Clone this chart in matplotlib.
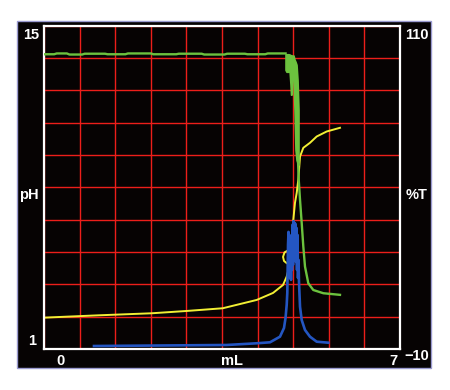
import numpy as np
import matplotlib
matplotlib.use("Agg")
import matplotlib.pyplot as plt
from matplotlib.patches import Rectangle

# ---------------- data ----------------
# pH curve (yellow, left axis 1..15)
ph_ml = [0.000, 0.446, 1.101, 2.118, 2.806, 3.514, 4.182, 4.503, 4.700, 4.772,
         4.817, 4.837, 4.778, 4.719, 4.700, 4.729, 4.798, 4.857, 4.877, 4.886,
         4.902, 4.935, 4.969, 5.000, 5.034, 5.099, 5.230, 5.362, 5.559, 5.820]
ph_val = [2.357, 2.400, 2.461, 2.547, 2.647, 2.764, 3.124, 3.427, 3.774, 4.134,
          4.511, 4.728, 4.706, 4.814, 4.988, 5.183, 5.269, 5.161, 5.724, 6.245,
          6.591, 7.328, 7.762, 8.325, 9.335, 9.712, 9.929, 10.202, 10.419, 10.579]

# %T curve (green, right axis -10..110): plateau, noisy drop band, tail
t_ml = [0.00, 0.20, 0.25, 0.45, 0.50, 0.75, 0.80, 1.20, 1.25, 1.60, 1.65, 2.10,
        2.15, 2.60, 2.65, 3.10, 3.15, 3.55, 3.60, 3.95, 4.00, 4.35, 4.40, 4.75]
t_val = [99.4, 99.4, 99.7, 99.7, 99.3, 99.3, 99.6, 99.6, 99.4, 99.4, 99.7, 99.7,
         99.4, 99.4, 99.6, 99.6, 99.3, 99.3, 99.6, 99.6, 99.4, 99.4, 99.7, 99.7]
band_ml = [4.749, 4.768, 4.788, 4.808, 4.827, 4.847, 4.857, 4.867, 4.876,
           4.886, 4.906, 4.926, 4.945, 4.965, 4.985, 5.004]
band_top = [99.4, 99.4, 99.4, 99.4, 99.3, 99.1, 99.0, 99.0, 98.9,
            98.9, 98.9, 97.4, 96.6, 95.5, 89.9, 78.8]
band_low = [93.6, 92.9, 92.9, 92.9, 93.6, 88.2, 84.4, 84.4, 91.8,
            91.8, 89.9, 78.8, 63.9, 60.2, 59.1, 58.4]
tail_ml = [4.994, 5.009, 5.034, 5.067, 5.099, 5.132, 5.197, 5.295, 5.492, 5.820]
tail_val = [60.0, 52.8, 45.4, 36.8, 28.0, 20.6, 14.4, 11.9, 10.7, 10.1]

# derivative curve (blue, right axis scale)
d_ml = [0.983, 3.592, 4.182, 4.444, 4.640, 4.719, 4.749, 4.772, 4.784,
        4.798, 4.808, 4.817, 4.827, 4.837, 4.847, 4.857, 4.867, 4.876, 4.886,
        4.896, 4.906, 4.916, 4.926, 4.935, 4.945, 4.955, 4.965, 4.975, 4.985,
        4.994, 5.004, 5.014, 5.034, 5.067, 5.132, 5.230, 5.362, 5.590]
d_val = [-8.89, -8.51, -7.88, -7.51, -5.43, -2.20, 1.52, 6.35, 10.81,
         28.64, 33.47, 19.35, 30.50, 16.38, 26.78, 15.63, 32.35, 19.35, 36.07,
         21.21, 37.49, 24.92, 36.81, 30.50, 36.44, 22.32, 34.95, 19.35, 32.35,
         16.38, 23.07, 14.89, 5.72, 0.77, -2.94, -5.43, -7.29, -7.66]

x_range = (0, 7)
ph_range = (1, 15)
t_range = (-10, 110)

# ---------------- figure ----------------
W, H = 450, 390
fig = plt.figure(figsize=(W / 100, H / 100), dpi=100)
fig.patch.set_facecolor("white")

def fx(px):
    return px / W

def fy(py):
    return 1 - py / H

# outer black panel (behind the axes)
panel = Rectangle((fx(17), fy(368)), fx(431) - fx(17), fy(21) - fy(368),
                  transform=fig.transFigure, facecolor="#060303",
                  edgecolor="#9a9ad0", linewidth=1.0, zorder=-10)
fig.add_artist(panel)

ax = fig.add_axes([fx(44), fy(349), fx(400) - fx(44), fy(25.7) - fy(349)])
ax.set_zorder(1)
ax.set_facecolor("#060303")
ax.set_xlim(*x_range)
ax.set_ylim(*ph_range)
ax.set_xticks(np.linspace(x_range[0], x_range[1], 11))
ax.set_yticks(np.linspace(ph_range[0], ph_range[1], 11))
ax.grid(True, color="#ec1e1a", linewidth=1.0)
ax.tick_params(length=0, labelbottom=False, labelleft=False)
for s in ax.spines.values():
    s.set_color("white")
    s.set_linewidth(1.6)
    s.set_zorder(10)

ax.plot(ph_ml, ph_val, color="#f2ef34", linewidth=1.4, zorder=3)

ax2 = ax.twinx()
ax2.set_zorder(2)
ax2.patch.set_visible(False)
ax2.set_ylim(*t_range)
ax2.set_yticks([])
ax2.tick_params(length=0, labelright=False)
for s in ax2.spines.values():
    s.set_visible(False)

green = "#6cc23e"
ax2.plot(t_ml, t_val, color=green, linewidth=1.7, zorder=3)
ax2.fill_between(band_ml, band_low, band_top, color=green, linewidth=1.2,
                 edgecolor=green, zorder=3)
ax2.plot(tail_ml, tail_val, color=green, linewidth=1.7, zorder=3)
ax2.plot(d_ml, d_val, color="#2456c2", linewidth=1.9, zorder=4)

# labels
fp = dict(color="white", fontsize=10.5, fontweight="bold",
          family=["Liberation Sans", "DejaVu Sans"], ha="center", va="center",
          zorder=5)
fig.text(fx(31), fy(35), "15", **fp)
fig.text(fx(32), fy(341), "1", **fp)
fig.text(fx(29), fy(195), "pH", **fp)
fig.text(fx(416.7), fy(35), "110", **fp)
fig.text(fx(416.7), fy(195), "%T", **fp)
fig.text(fx(416.7), fy(356), "\u221210", **fp)
fig.text(fx(60.7), fy(361), "0", **fp)
fig.text(fx(232.3), fy(361), "mL", **fp)
fig.text(fx(393.5), fy(361), "7", **fp)

fig.savefig("out.png", dpi=100, facecolor="white")
